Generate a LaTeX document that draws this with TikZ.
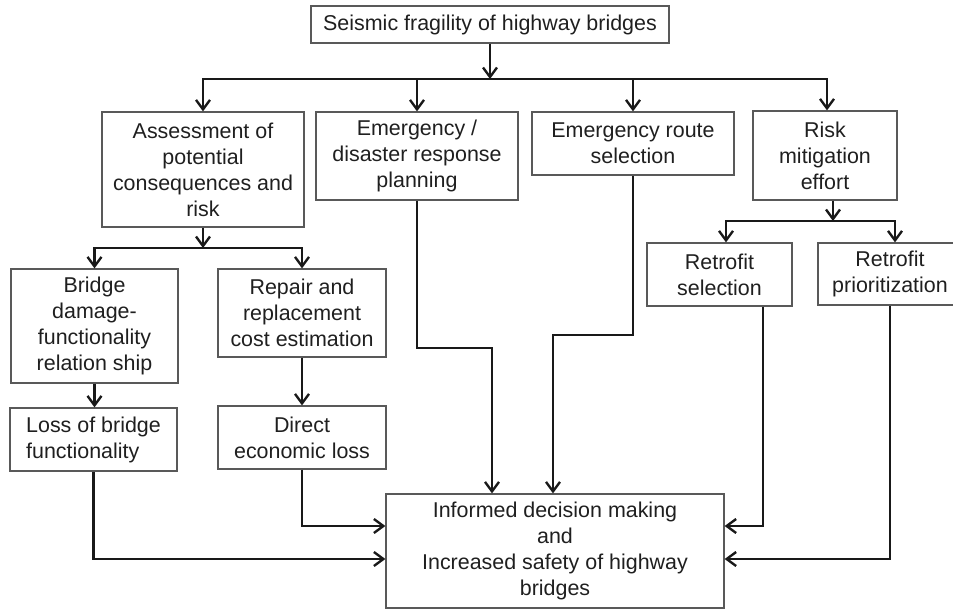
\documentclass[tikz,border=0pt]{standalone}
\usepackage{fontspec}
\setmainfont{Liberation Sans}
\usetikzlibrary{arrows.meta}

\begin{document}
\begin{tikzpicture}[
    box/.style={draw=black!65, line width=0.7pt, inner sep=0pt, align=center,
                text=black!88, font=\fontsize{12.2}{14.8}\selectfont},
    arr/.style={draw=black!90, line width=1.35pt, -{Straight Barb[length=1.9mm, width=2.8mm]}}
]
\useasboundingbox (0,0) rectangle (19.06,-12.18);

\node[box, minimum width=7.16cm, minimum height=0.74cm] (top) at (9.80,-0.49) {Seismic fragility of highway bridges};
\node[box, minimum width=4.04cm, minimum height=2.30cm] (assess) at (4.06,-3.39) {Assessment of\\potential\\consequences and\\risk};
\node[box, minimum width=4.04cm, minimum height=1.76cm] (plan) at (8.34,-3.12) {Emergency /\\disaster response\\planning};
\node[box, minimum width=4.04cm, minimum height=1.26cm] (route) at (12.66,-2.87) {Emergency route\\selection};
\node[box, minimum width=2.88cm, minimum height=1.78cm] (risk) at (16.50,-3.11) {Risk\\mitigation\\effort};
\node[box, minimum width=3.34cm, minimum height=2.28cm] (damage) at (1.89,-6.52) {Bridge\\damage-\\functionality\\relation ship};
\node[box, minimum width=3.36cm, minimum height=1.76cm] (repair) at (6.04,-6.26) {Repair and\\replacement\\cost estimation};
\node[box, minimum width=3.34cm, minimum height=1.26cm, align=left] (loss) at (1.87,-8.79) {Loss of bridge\\functionality};
\node[box, minimum width=3.36cm, minimum height=1.26cm] (econ) at (6.04,-8.75) {Direct\\economic loss};
\node[box, minimum width=2.90cm, minimum height=1.26cm] (rsel) at (14.39,-5.49) {Retrofit\\selection};
\node[box, minimum width=2.88cm, minimum height=1.24cm] (rprio) at (17.80,-5.48) {Retrofit\\prioritization};
\node[box, minimum width=6.76cm, minimum height=2.28cm] (safety) at (11.10,-11.02) {Informed decision making\\and\\Increased safety of highway\\bridges};

\coordinate (topbus) at (9.80,-1.58);
\coordinate (abus) at (4.06,-4.96);
\coordinate (rbus) at (16.66,-4.42);
\coordinate (bturn) at (9.84,-6.96);
\coordinate (cturn) at (11.06,-6.70);

\draw[arr] (top.south) -- (topbus);
\draw[arr] (topbus) -| (assess.north);
\draw[arr] (topbus) -| (plan.north);
\draw[arr] (topbus) -| (route.north);
\draw[arr] (topbus) -| ([xshift=0.04cm]risk.north);

\draw[arr] (assess.south) -- (abus);
\draw[arr] (abus) -| (damage.north);
\draw[arr] (abus) -| (repair.north);
\draw[arr] (damage.south) -- (damage.south |- loss.north);
\draw[arr] (repair.south) -- (repair.south |- econ.north);

\draw[arr] ([xshift=0.16cm]risk.south) -- (rbus);
\draw[arr] (rbus) -| ([xshift=0.13cm]rsel.north);
\draw[arr] (rbus) -| ([xshift=0.10cm]rprio.north);

\draw[arr] (plan.south) |- (bturn) -- (bturn |- safety.north);
\draw[arr] (route.south) |- (cturn) -- (cturn |- safety.north);
\draw[arr] (econ.south) |- ([yshift=0.50cm]safety.west);
\draw[arr] (loss.south) |- ([yshift=-0.16cm]safety.west);
\draw[arr] ([xshift=0.87cm]rsel.south) |- ([yshift=0.50cm]safety.east);
\draw[arr] (rprio.south) |- ([yshift=-0.16cm]safety.east);
\end{tikzpicture}
\end{document}
